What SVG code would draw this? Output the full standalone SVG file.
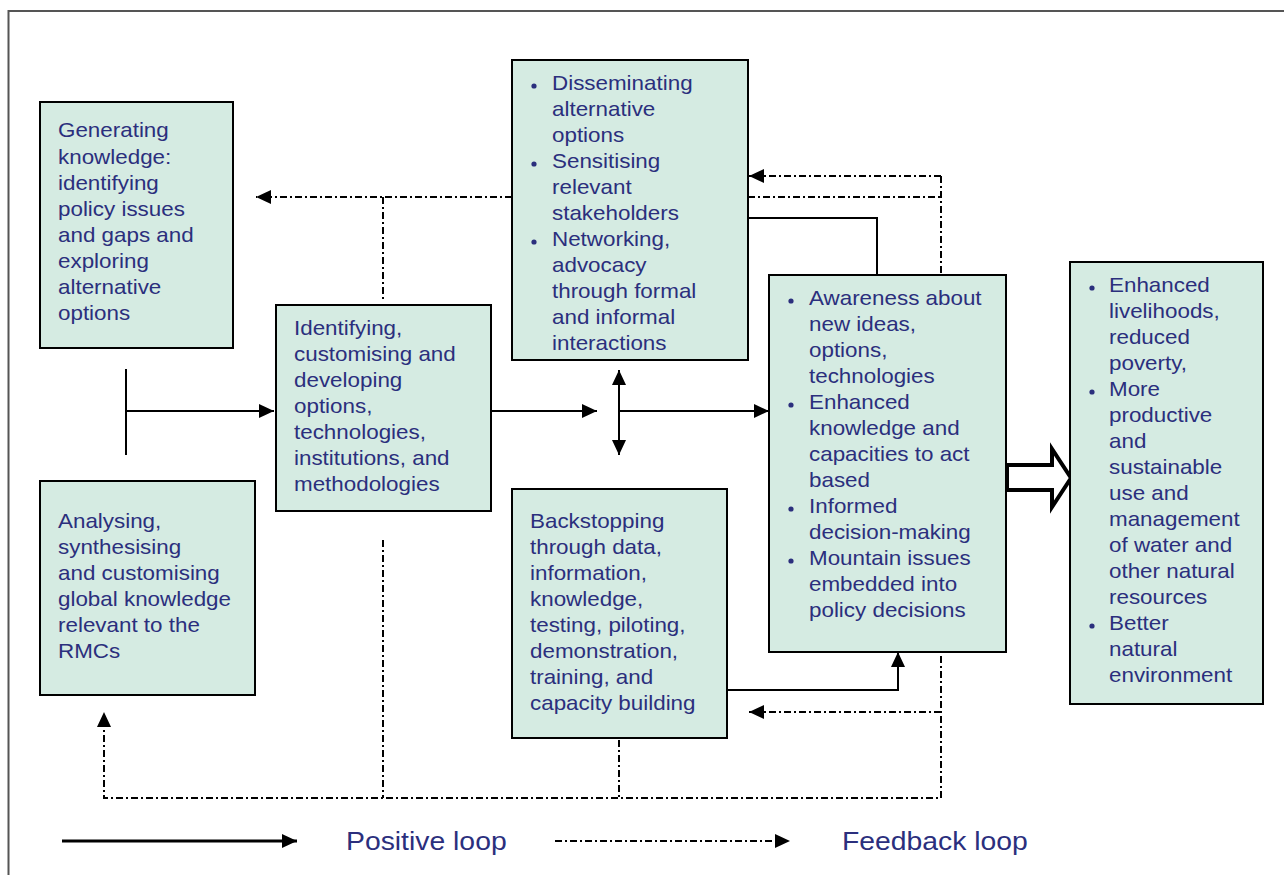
<svg xmlns="http://www.w3.org/2000/svg" width="1284" height="875" viewBox="0 0 1284 875">
<style>
.box{fill:#d5ebe2;stroke:#000;stroke-width:2}
.t{font-family:"Liberation Sans",Arial,sans-serif;font-size:20px;fill:#2b2f7d}
.b{fill:#2b2f7d}
.sol{fill:none;stroke:#000;stroke-width:2}
.fb{fill:none;stroke:#000;stroke-width:2;stroke-dasharray:7 3 2 3}
.leg{font-family:"Liberation Sans",Arial,sans-serif;font-size:26px;fill:#2b2f7d}
</style>
<defs>
<marker id="arr" markerUnits="userSpaceOnUse" markerWidth="15" markerHeight="14" refX="15" refY="7" orient="auto-start-reverse" viewBox="0 0 15 14">
<path d="M0,0 L15,7 L0,14 z" fill="#000"/>
</marker>
</defs>
<rect width="1284" height="875" fill="#fff"/>
<path d="M8.5,875 V11 H1284" fill="none" stroke="#555" stroke-width="2"/>

<g id="connectors">
<path class="sol" d="M126,369 V455"/>
<path class="sol" d="M126,411 H274" marker-end="url(#arr)"/>
<path class="sol" d="M491,411 H597" marker-end="url(#arr)"/>
<path class="sol" d="M619,411 V370" marker-end="url(#arr)"/>
<path class="sol" d="M619,411 V455" marker-end="url(#arr)"/>
<path class="sol" d="M619,411 H769" marker-end="url(#arr)"/>
<path class="sol" d="M748,218 H877 V275"/>
<path class="sol" d="M727,690 H898 V652" marker-end="url(#arr)"/>
<path class="fb" d="M512,197 H256" marker-end="url(#arr)"/>
<path class="fb" d="M383,197 V300"/>
<path class="fb" d="M383,540 V798"/>
<path class="fb" d="M619,740 V798"/>
<path class="fb" d="M941,176 V798 H104 V712" marker-end="url(#arr)"/>
<path class="fb" d="M941,176 H749" marker-end="url(#arr)"/>
<path class="fb" d="M748,197 H941"/>
<path class="fb" d="M941,712 H749" marker-end="url(#arr)"/>
<path d="M1007,465 H1052 V449 L1071,478 L1052,507 V490 H1007 Z" fill="#fff" stroke="#000" stroke-width="4" stroke-linejoin="miter"/>
</g>

<g id="n1">
<rect class="box" x="40" y="102" width="193" height="246"/>
<g transform="translate(58 0) scale(1.12 1)"><text class="t"><tspan x="0" y="137">Generating</tspan><tspan x="0" y="164">knowledge:</tspan><tspan x="0" y="190">identifying</tspan><tspan x="0" y="216">policy issues</tspan><tspan x="0" y="242">and gaps and</tspan><tspan x="0" y="268">exploring</tspan><tspan x="0" y="294">alternative</tspan><tspan x="0" y="320">options</tspan></text></g>
</g>

<g id="n2">
<rect class="box" x="40" y="481" width="215" height="214"/>
<g transform="translate(58 0) scale(1.12 1)"><text class="t"><tspan x="0" y="528">Analysing,</tspan><tspan x="0" y="554">synthesising</tspan><tspan x="0" y="580">and customising</tspan><tspan x="0" y="606">global knowledge</tspan><tspan x="0" y="632">relevant to the</tspan><tspan x="0" y="658">RMCs</tspan></text></g>
</g>

<g id="n3">
<rect class="box" x="276" y="305" width="215" height="206"/>
<g transform="translate(294 0) scale(1.12 1)"><text class="t"><tspan x="0" y="335">Identifying,</tspan><tspan x="0" y="361">customising and</tspan><tspan x="0" y="387">developing</tspan><tspan x="0" y="413">options,</tspan><tspan x="0" y="439">technologies,</tspan><tspan x="0" y="465">institutions, and</tspan><tspan x="0" y="491">methodologies</tspan></text></g>
</g>

<g id="n4">
<rect class="box" x="512" y="60" width="236" height="300"/>
<circle class="b" cx="534" cy="86" r="2.6"/>
<circle class="b" cx="534" cy="164" r="2.6"/>
<circle class="b" cx="534" cy="242" r="2.6"/>
<g transform="translate(552 0) scale(1.12 1)"><text class="t"><tspan x="0" y="90">Disseminating</tspan><tspan x="0" y="116">alternative</tspan><tspan x="0" y="142">options</tspan><tspan x="0" y="168">Sensitising</tspan><tspan x="0" y="194">relevant</tspan><tspan x="0" y="220">stakeholders</tspan><tspan x="0" y="246">Networking,</tspan><tspan x="0" y="272">advocacy</tspan><tspan x="0" y="298">through formal</tspan><tspan x="0" y="324">and informal</tspan><tspan x="0" y="350">interactions</tspan></text></g>
</g>

<g id="n5">
<rect class="box" x="512" y="489" width="215" height="249"/>
<g transform="translate(530 0) scale(1.12 1)"><text class="t"><tspan x="0" y="528">Backstopping</tspan><tspan x="0" y="554">through data,</tspan><tspan x="0" y="580">information,</tspan><tspan x="0" y="606">knowledge,</tspan><tspan x="0" y="632">testing, piloting,</tspan><tspan x="0" y="658">demonstration,</tspan><tspan x="0" y="684">training, and</tspan><tspan x="0" y="710">capacity building</tspan></text></g>
</g>

<g id="n6">
<rect class="box" x="769" y="275" width="237" height="377"/>
<circle class="b" cx="791" cy="301" r="2.6"/>
<circle class="b" cx="791" cy="405" r="2.6"/>
<circle class="b" cx="791" cy="509" r="2.6"/>
<circle class="b" cx="791" cy="561" r="2.6"/>
<g transform="translate(809 0) scale(1.12 1)"><text class="t"><tspan x="0" y="305">Awareness about</tspan><tspan x="0" y="331">new ideas,</tspan><tspan x="0" y="357">options,</tspan><tspan x="0" y="383">technologies</tspan><tspan x="0" y="409">Enhanced</tspan><tspan x="0" y="435">knowledge and</tspan><tspan x="0" y="461">capacities to act</tspan><tspan x="0" y="487">based</tspan><tspan x="0" y="513">Informed</tspan><tspan x="0" y="539">decision-making</tspan><tspan x="0" y="565">Mountain issues</tspan><tspan x="0" y="591">embedded into</tspan><tspan x="0" y="617">policy decisions</tspan></text></g>
</g>

<g id="n7">
<rect class="box" x="1070" y="262" width="193" height="442"/>
<circle class="b" cx="1092" cy="288" r="2.6"/>
<circle class="b" cx="1092" cy="392" r="2.6"/>
<circle class="b" cx="1092" cy="626" r="2.6"/>
<g transform="translate(1109 0) scale(1.12 1)"><text class="t"><tspan x="0" y="292">Enhanced</tspan><tspan x="0" y="318">livelihoods,</tspan><tspan x="0" y="344">reduced</tspan><tspan x="0" y="370">poverty,</tspan><tspan x="0" y="396">More</tspan><tspan x="0" y="422">productive</tspan><tspan x="0" y="448">and</tspan><tspan x="0" y="474">sustainable</tspan><tspan x="0" y="500">use and</tspan><tspan x="0" y="526">management</tspan><tspan x="0" y="552">of water and</tspan><tspan x="0" y="578">other natural</tspan><tspan x="0" y="604">resources</tspan><tspan x="0" y="630">Better</tspan><tspan x="0" y="656">natural</tspan><tspan x="0" y="682">environment</tspan></text></g>
</g>

<g id="legend">
<path d="M62,841 H297" fill="none" stroke="#000" stroke-width="3" marker-end="url(#arr)"/>
<g transform="translate(346 0) scale(1.09 1)"><text class="leg" x="0" y="850">Positive loop</text></g>
<path class="fb" d="M555,841 H790" stroke-width="2.4" marker-end="url(#arr)"/>
<g transform="translate(842 0) scale(1.09 1)"><text class="leg" x="0" y="850">Feedback loop</text></g>
</g>
</svg>
